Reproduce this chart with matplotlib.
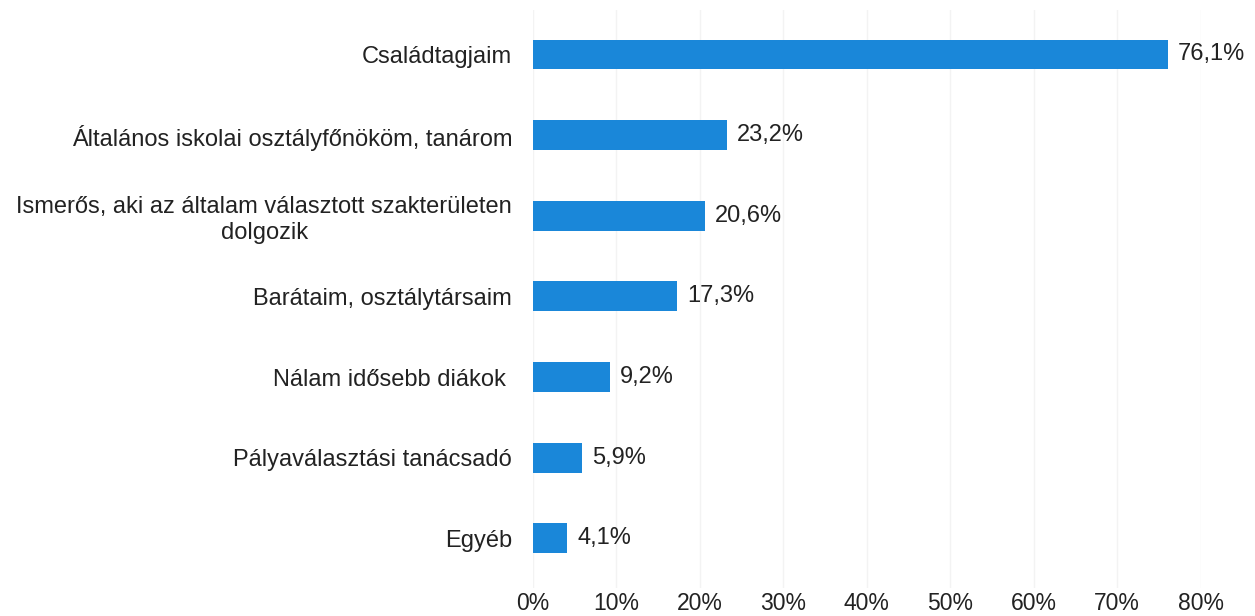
import matplotlib.pyplot as plt
from matplotlib.ticker import FuncFormatter

plt.rcParams['font.family'] = ['Liberation Sans', 'DejaVu Sans']

# data
categories = [
    'Családtagjaim',
    'Általános iskolai osztályfőnököm, tanárom',
    'Ismerős, aki az általam választott szakterületen\ndolgozik',
    'Barátaim, osztálytársaim',
    'Nálam idősebb diákok ',
    'Pályaválasztási tanácsadó',
    'Egyéb',
]
values = [76.1, 23.2, 20.6, 17.3, 9.2, 5.9, 4.1]
xticks = [0, 10, 20, 30, 40, 50, 60, 70, 80]

bar_color = '#1a87d9'

fig = plt.figure(figsize=(12.55, 6.16), dpi=100)
ax = fig.add_axes([0.4247, 0.045, 0.532, 0.9386])

ypos = list(range(len(categories)))
ax.barh(ypos, values, height=0.37, color=bar_color, zorder=3)

for y, v in zip(ypos, values):
    ax.text(v + 1.2, y, f'{v:.1f}%'.replace('.', ','), va='center', ha='left',
            fontsize=17, color='#222222')

ax.set_yticks(ypos)
ax.set_yticklabels(categories, fontsize=17, color='#222222', ha='right',
                   multialignment='center', linespacing=1.25)
ax.set_ylim(6.62, -0.55)

ax.set_xlim(0, 80)
ax.set_xticks(xticks)
ax.xaxis.set_major_formatter(FuncFormatter(lambda x, p: f'{int(x)}%'))
ax.tick_params(axis='x', labelsize=16.5, length=0, pad=3, colors='#222222')
ax.tick_params(axis='y', length=0, pad=15)
ax.grid(axis='x', color='#f3f3f3', linewidth=1, zorder=0)

for s in ax.spines.values():
    s.set_visible(False)

fig.savefig('out.png', dpi=100)
